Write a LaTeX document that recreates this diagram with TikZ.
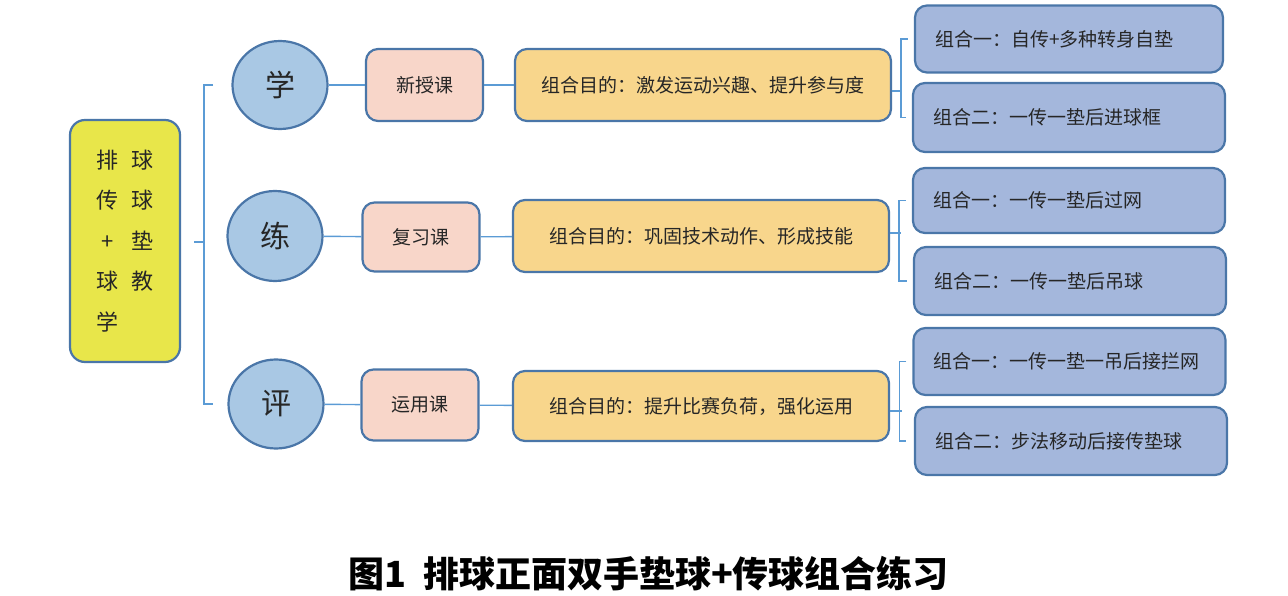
\documentclass[tikz,border=0pt]{standalone}
\usepackage{fontspec}
\setmainfont{Noto Sans CJK SC}
\usepackage{tikz}
\usetikzlibrary{shapes.geometric}

\definecolor{edgeblue}{HTML}{4A76A8}
\definecolor{linkblue}{HTML}{5B9BD5}
\definecolor{rootyellow}{HTML}{E8E64A}
\definecolor{circblue}{HTML}{A9C8E4}
\definecolor{lessonpink}{HTML}{F8D6C9}
\definecolor{aimorange}{HTML}{F8D68C}
\definecolor{combblue}{HTML}{A4B7DC}
\definecolor{textgray}{HTML}{262626}

\begin{document}
\begin{tikzpicture}[x=1pt,y=-1pt,
    every node/.style={text=textgray},
    link/.style={draw=linkblue,line width=1.4pt},
    stage/.style={ellipse,draw=edgeblue,line width=2.2pt,fill=circblue,inner sep=0pt,
      minimum width=95pt,minimum height=88pt,font=\fontsize{30}{30}\selectfont},
    lesson/.style={rectangle,rounded corners=12pt,draw=edgeblue,line width=2.2pt,fill=lessonpink,
      minimum width=117pt,minimum height=70pt,font=\fontsize{19}{19}\selectfont},
    aim/.style={rectangle,rounded corners=12pt,draw=edgeblue,line width=2.2pt,fill=aimorange,
      minimum width=376pt,minimum height=72pt,font=\fontsize{19}{19}\selectfont},
    combo/.style={rectangle,rounded corners=12pt,draw=edgeblue,line width=2.2pt,fill=combblue,
      inner xsep=20pt,text width=272pt,align=left,minimum height=67pt,font=\fontsize{19}{19}\selectfont}]
        \useasboundingbox (0,0) rectangle (1288,596);

        % root
        \node [rectangle,rounded corners=15pt,draw=edgeblue,line width=2.2pt,fill=rootyellow,
          minimum width=110pt,minimum height=242pt,inner sep=0pt] (root) at (125,241)
          {\fontsize{22}{40.5}\selectfont
           \begin{tabular}{@{}c@{\hspace{13pt}}c@{}}
             排 & 球\\ 传 & 球\\ + & 垫\\ 球 & 教\\ 学 & \phantom{学}
           \end{tabular}};

        % stages
        \node [stage] (xue) at (280,85) {学};
        \node [stage,minimum height=90pt] (lian) at (275,236) {练};
        \node [stage,minimum height=89pt] (ping) at (276,404) {评};

        % lessons
        \node [lesson,minimum height=72pt] (xinshou) at (424.5,85) {新授课};
        \node [lesson,minimum height=69pt] (fuxi) at (421,237) {复习课};
        \node [lesson,minimum height=71pt] (yunyong) at (420,405) {运用课};

        % aims
        \node [aim] (aima) at (703,85) {组合目的：激发运动兴趣、提升参与度};
        \node [aim] (aimb) at (701,236) {组合目的：巩固技术动作、形成技能};
        \node [aim,minimum height=70pt] (aimc) at (701,406) {组合目的：提升比赛负荷，强化运用};

        % combinations
        \node [combo,text width=268pt] (aa) at (1069,39) {组合一：自传+多种转身自垫};
        \node [combo,minimum height=69pt] (ab) at (1069,117.5) {组合二：一传一垫后进球框};
        \node [combo,minimum height=65pt] (ba) at (1069,200.5) {组合一：一传一垫后过网};
        \node [combo,minimum height=68pt] (bb) at (1070,281) {组合二：一传一垫后吊球};
        \node [combo] (ca) at (1069.5,361.5) {组合一：一传一垫一吊后接拦网};
        \node [combo,minimum height=68pt] (cb) at (1071,441) {组合二：步法移动后接传垫球};

        % main bracket
        \coordinate (brk) at (204,242);
        \draw [link,shorten <=13pt] (root.east |- brk) -- (brk);
        \draw [link] ([xshift=9pt]brk |- xue) -- (brk |- xue) -- (brk |- ping) -- ([xshift=9pt]brk |- ping);

        % stage -> lesson -> aim
        \draw [link] (xue) -- (xinshou);
        \draw [link] (lian) -- (fuxi);
        \draw [link] (ping) -- (yunyong);
        \draw [link] (xinshou) -- (aima);
        \draw [link] (fuxi) -- (aimb);
        \draw [link] (yunyong) -- (aimc);

        % small brackets
        \draw [link] ([yshift=-6pt]aima.east) -- ++(8,0);
        \draw [link] ([xshift=-6pt]aa.west) -- ++(-7,0) |- ([xshift=-6pt]ab.west);
        \draw [link] ([yshift=3pt]aimb.east) -- ++(11,0);
        \draw [link] ([xshift=-6pt]ba.west) -- ++(-7,0) |- ([xshift=-6pt]bb.west);
        \draw [link] ([yshift=-5pt]aimc.east) -- ++(12,0);
        \draw [link] ([xshift=-6pt]ca.west) -- ++(-7,0) |- ([xshift=-8pt]cb.west);

        % caption
        \node [font=\fontsize{36}{36}\selectfont\bfseries,text=black] (caption) at (649,574)
          {图1\hspace{0.45em}排球正面双手垫球+传球组合练习};
\end{tikzpicture}
\end{document}
